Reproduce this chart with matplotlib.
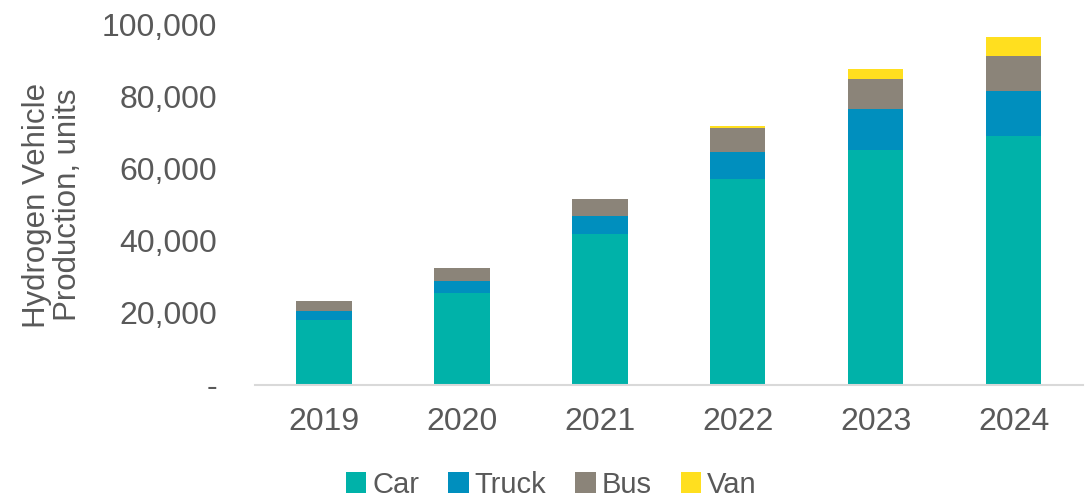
import matplotlib
matplotlib.use("Agg")
import matplotlib.pyplot as plt
from matplotlib.ticker import FuncFormatter
import numpy as np

plt.rcParams['font.family'] = ['Liberation Sans', 'DejaVu Sans']

years = ["2019", "2020", "2021", "2022", "2023", "2024"]
car = [18000, 25500, 42000, 57300, 65200, 69100]
truck = [2500, 3500, 4900, 7500, 11500, 12600]
bus = [2800, 3500, 4700, 6600, 8200, 9600]
van = [0, 0, 0, 500, 2900, 5300]

series = [("Car", car, "#00B2A9"), ("Truck", truck, "#008FBE"),
          ("Bus", bus, "#8B8479"), ("Van", van, "#FFDF1F")]

fig = plt.figure(figsize=(10.85, 4.97), dpi=100)
ax = fig.add_axes([0.235, 0.2254, 0.763, 0.7243])

x = np.arange(len(years))
bottom = np.zeros(len(years))
for name, vals, col in series:
    ax.bar(x, vals, 0.4, bottom=bottom, color=col, label=name,
           edgecolor='none')
    bottom += np.array(vals)

ax.set_xlim(-0.5, len(years) - 0.5)
ax.set_ylim(0, 100000)
ax.set_yticks(np.arange(0, 100001, 20000))
ax.yaxis.set_major_formatter(FuncFormatter(lambda v, p: "-" if v == 0 else f"{int(v):,}"))
ax.set_xticks(x)
ax.set_xticklabels(years)

txtcol = "#595959"
ax.tick_params(axis='y', length=0, pad=27, labelsize=23, labelcolor=txtcol)
ax.tick_params(axis='x', length=0, pad=16, labelsize=23, labelcolor=txtcol)
for s in ['top', 'right', 'left']:
    ax.spines[s].set_visible(False)
ax.spines['bottom'].set_color("#D9D9D9")
ax.spines['bottom'].set_linewidth(1.5)

ax.set_ylabel("Hydrogen Vehicle\nProduction, units", fontsize=22.5, color=txtcol,
              labelpad=14, linespacing=1.05)

handles, labels = ax.get_legend_handles_labels()
fig.legend(handles, labels, loc='center', bbox_to_anchor=(0.508, 0.025), ncol=4,
           frameon=False, fontsize=21, labelcolor=txtcol, handlelength=0.7,
           handleheight=0.7, handletextpad=0.2, columnspacing=1.0)

fig.savefig("out.png", dpi=100)
